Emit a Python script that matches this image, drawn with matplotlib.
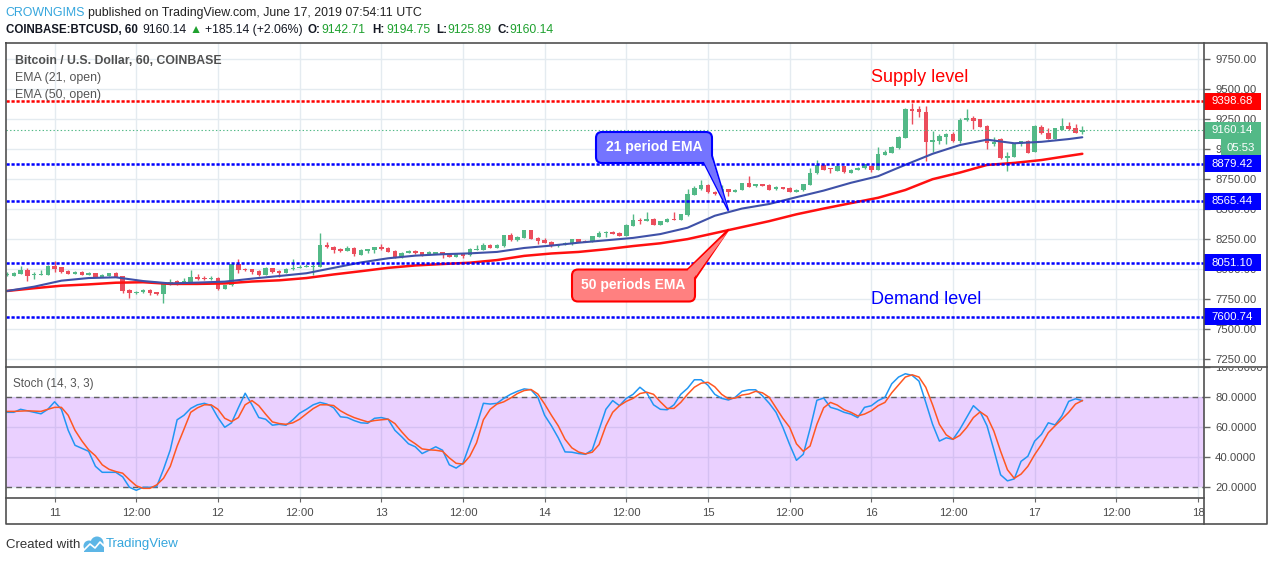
import numpy as np
import pandas as pd
import matplotlib
matplotlib.use("Agg")
import matplotlib.pyplot as plt
import matplotlib.transforms as mtransforms
from matplotlib.patches import Rectangle, FancyBboxPatch, Polygon, Circle

plt.rcParams['font.family'] = ['Liberation Sans', 'DejaVu Sans']
plt.rcParams['lines.scale_dashes'] = False

# ---------------- data (BTCUSD 60 min, COINBASE) ----------------
start_time = "2019-06-10 17:00"
ref_time = "2019-06-11 00:00"

opens = [7950, 7945, 7958, 7992, 7948, 7953, 7953, 8025, 8014, 7983,
         7961, 7975, 7953, 7967, 7936, 7945, 7967, 7942, 7825, 7797,
         7806, 7825, 7806, 7789, 7870, 7900, 7889, 7892, 7936, 7925,
         7914, 7928, 7834, 7864, 8042, 7998, 7998, 7983, 7950, 8009,
         7984, 7970, 7998, 8012, 8020, 8020, 8020, 8204, 8187, 8167,
         8151, 8178, 8120, 8151, 8159, 8184, 8178, 8151, 8098, 8134,
         8151, 8142, 8120, 8128, 8142, 8120, 8104, 8134, 8117, 8159,
         8159, 8201, 8178, 8192, 8284, 8242, 8262, 8326, 8262, 8242,
         8229, 8192, 8201, 8206, 8251, 8237, 8229, 8270, 8298, 8312,
         8304, 8279, 8362, 8412, 8404, 8418, 8368, 8396, 8418, 8412,
         8451, 8620, 8668, 8705, 8646, 8638, 8668, 8646, 8660, 8718,
         8690, 8710, 8702, 8666, 8685, 8677, 8646, 8657, 8704, 8799,
         8869, 8841, 8821, 8860, 8805, 8830, 8841, 8863, 8830, 8955,
         8972, 9010, 9094, 9333, 9336, 9310, 9063, 9072, 9105, 9127,
         9072, 9244, 9264, 9252, 9194, 9046, 9083, 8924, 8938, 9041,
         9069, 8980, 9183, 9136, 9089, 9163, 9191, 9177, 9142.71]
highs = [7975, 7978, 8025, 8010, 7975, 7992, 8030, 8064, 8020, 7990,
         7980, 7980, 7975, 7970, 7958, 7970, 7972, 7945, 7830, 7815,
         7830, 7830, 7810, 7880, 7920, 7905, 7922, 7992, 7956, 7942,
         7945, 7935, 7870, 8045, 8080, 8010, 8000, 7988, 8015, 8012,
         7988, 8005, 8085, 8030, 8040, 8060, 8300, 8225, 8190, 8172,
         8190, 8182, 8167, 8170, 8188, 8205, 8182, 8155, 8140, 8156,
         8155, 8146, 8150, 8146, 8146, 8124, 8138, 8138, 8175, 8200,
         8220, 8206, 8205, 8288, 8300, 8274, 8330, 8330, 8266, 8260,
         8233, 8213, 8230, 8255, 8255, 8241, 8280, 8320, 8316, 8318,
         8308, 8372, 8460, 8430, 8480, 8422, 8405, 8430, 8480, 8463,
         8670, 8690, 8740, 8710, 8650, 8700, 8672, 8667, 8722, 8775,
         8714, 8714, 8706, 8692, 8689, 8681, 8667, 8714, 8840, 8910,
         8873, 8845, 8880, 8864, 8831, 8850, 8878, 8867, 9020, 8990,
         9026, 9110, 9345, 9382, 9360, 9360, 9152, 9130, 9135, 9140,
         9260, 9335, 9280, 9256, 9200, 9100, 9090, 8980, 9045, 9073,
         9080, 9200, 9200, 9180, 9180, 9260, 9230, 9210, 9194.75]
lows = [7940, 7938, 7955, 7903, 7914, 7950, 7950, 7972, 7970, 7955,
        7955, 7950, 7948, 7930, 7930, 7940, 7930, 7800, 7756, 7790,
        7800, 7785, 7780, 7714, 7865, 7865, 7880, 7888, 7910, 7910,
        7910, 7825, 7830, 7860, 7970, 7980, 7960, 7945, 7948, 7970,
        7935, 7965, 7995, 8008, 8015, 7950, 8015, 8175, 8130, 8140,
        8148, 8110, 8115, 8130, 8130, 8160, 8140, 8095, 8090, 8130,
        8125, 8105, 8115, 8124, 8090, 8100, 8100, 8090, 8112, 8155,
        8155, 8172, 8174, 8188, 8238, 8238, 8258, 8247, 8210, 8216,
        8188, 8188, 8197, 8202, 8225, 8222, 8225, 8266, 8270, 8289,
        8275, 8275, 8358, 8380, 8400, 8364, 8364, 8392, 8408, 8408,
        8447, 8615, 8664, 8636, 8620, 8620, 8610, 8642, 8656, 8684,
        8686, 8692, 8659, 8662, 8667, 8642, 8642, 8653, 8700, 8795,
        8823, 8800, 8817, 8803, 8801, 8826, 8837, 8810, 8826, 8951,
        8968, 9006, 9090, 9212, 9270, 8900, 8980, 9040, 9040, 9060,
        9050, 9238, 9170, 9185, 9000, 9030, 8915, 8820, 8934, 9030,
        8965, 8975, 9129, 9085, 9085, 9159, 9162, 9134, 9125.89]
closes = [7962, 7970, 7992, 7945, 7961, 7961, 8025, 8003, 7975, 7961,
          7975, 7953, 7970, 7936, 7953, 7967, 7936, 7820, 7797, 7811,
          7825, 7797, 7789, 7875, 7892, 7872, 7903, 7936, 7914, 7914,
          7925, 7834, 7867, 8042, 7992, 7996, 7973, 7950, 8006, 7975,
          7970, 7998, 8012, 8020, 8025, 8024, 8201, 8181, 8159, 8151,
          8178, 8128, 8162, 8167, 8184, 8167, 8145, 8098, 8134, 8151,
          8131, 8109, 8145, 8142, 8115, 8104, 8134, 8112, 8165, 8167,
          8201, 8178, 8201, 8284, 8242, 8270, 8326, 8251, 8234, 8220,
          8192, 8209, 8218, 8251, 8229, 8229, 8276, 8304, 8312, 8293,
          8279, 8368, 8409, 8406, 8418, 8368, 8401, 8420, 8412, 8459,
          8624, 8679, 8705, 8640, 8630, 8668, 8646, 8663, 8718, 8688,
          8710, 8696, 8663, 8688, 8671, 8646, 8663, 8710, 8799, 8869,
          8827, 8833, 8860, 8807, 8827, 8846, 8874, 8830, 8960, 8975,
          9022, 9105, 9333, 9319, 9308, 9063, 9080, 9110, 9127, 9072,
          9244, 9264, 9239, 9189, 9050, 9063, 8924, 8946, 9041, 9069,
          8972, 9194, 9133, 9089, 9177, 9191, 9166, 9138, 9160.14]

# EMA readings (hours after 2019-06-11 00:00)
ema_hours = [-7, -3, 1, 5, 9, 13, 17, 21, 25, 29, 33, 37, 41, 45, 49, 53, 57, 61,
             65, 69, 73, 77, 81, 85, 89, 93, 97, 101, 105, 109, 113, 117, 121,
             125, 129, 133, 137, 141, 145, 149, 151]
ema21 = [7817, 7853, 7903, 7925, 7931, 7900, 7880, 7887, 7895, 7920, 7942, 7965,
         8010, 8055, 8090, 8112, 8124, 8131, 8143, 8176, 8196, 8220, 8240, 8260,
         8292, 8345, 8445, 8505, 8543, 8600, 8655, 8720, 8775, 8870, 8962, 9035,
         9080, 9050, 9062, 9085, 9100]
ema50 = [7817, 7840, 7861, 7872, 7886, 7890, 7876, 7876, 7880, 7896, 7906, 7925,
         7955, 7982, 8010, 8030, 8042, 8053, 8075, 8110, 8130, 8143, 8165, 8192,
         8215, 8250, 8300, 8350, 8400, 8457, 8505, 8550, 8595, 8660, 8750, 8805,
         8869, 8886, 8910, 8945, 8962]

stoch_k = [70, 70, 72, 71, 70, 69, 72, 77, 72, 58,
           48, 46, 44, 34, 30, 30, 30, 27, 20, 18,
           20, 20, 20.5, 32, 45, 65, 68, 72.6, 75, 76,
           74.5, 66.5, 60, 63, 73, 82.7, 75, 66.5, 65.4, 61.4,
           62, 61.4, 65, 69.4, 72, 75, 76.6, 75.5, 73, 67,
           66.5, 64.5, 63, 62.7, 66, 66.5, 65.4, 58, 53.7, 49,
           47, 42.5, 44.7, 47, 44.7, 35, 32.8, 36, 48.5, 61,
           76, 75.5, 76, 79.3, 82, 84, 85.6, 85, 80, 68,
           61, 53, 43.6, 43.4, 42.5, 42, 45, 58.6, 72, 77.8,
           74.4, 79.3, 82, 86.7, 83, 75, 72, 71.7, 75, 82,
           86, 91.7, 91.7, 88, 82, 79.3, 78.2, 80, 84, 85,
           85, 81, 76, 70, 60, 48.5, 38, 42, 59, 78,
           79.5, 73.3, 72, 70, 68.8, 66.5, 73.3, 74.4, 77.8, 80,
           89, 93.5, 95.7, 94.6, 90.8, 76.6, 62, 50.8, 53, 52,
           58.6, 66.5, 74.4, 70.3, 61, 45, 28.3, 24.3, 25.6, 37.3,
           40.7, 50.8, 55.3, 63, 61.6, 67.6, 77.3, 79, 77.8]
stoch_d = [70.6, 70.6, 70.8, 71, 70.8, 70.6, 72, 73.3, 73.3, 68,
           58, 51, 45, 41, 35, 32, 30.5, 29.4, 25, 21,
           19.3, 19.3, 21.6, 26, 34, 47.4, 58.6, 70, 73, 75,
           75, 72, 66, 63.8, 66.5, 75, 77.8, 74.4, 68.8, 63.6,
           62.5, 62, 63, 65.4, 69, 72.5, 75, 75, 74.5, 71,
           68.5, 66.5, 65, 63.6, 64.5, 65, 65.4, 62.5, 57, 52,
           49, 45.6, 45, 44.7, 44, 39.6, 36, 35.5, 40.7, 49.7,
           65, 72, 75.5, 77, 79.5, 82.5, 84.5, 85.2, 82.2, 75.5,
           68, 61, 52, 46.3, 43.5, 42.3, 43.4, 48.5, 61, 70,
           74.4, 77.3, 79.3, 82.5, 83.4, 82, 77, 72.6, 72.6, 76.6,
           82, 86.7, 89.4, 90, 87, 82, 79, 79.5, 81.5, 82.2,
           84, 83, 80, 73, 66, 60, 49, 44, 47.5, 62,
           73, 76.6, 74.8, 71.7, 70, 67.6, 68.8, 71, 74.4, 76.6,
           83, 88.3, 93.5, 95, 93.5, 86.7, 75, 62, 55, 52,
           54.6, 59.8, 66.5, 70.3, 67.2, 57.5, 44, 31.7, 26, 28.8,
           34, 41.8, 48.5, 56.4, 61, 65.4, 70, 75.5, 77.8]

level_supply = 9398.68
levels_blue = [8879.42, 8565.44, 8051.10, 7600.74]
last_price = 9160.14
countdown = "05:53"

price_ticks = [7250, 7500, 7750, 8000, 8250, 8500, 8750, 9000, 9250, 9500, 9750]
stoch_ticks = [20, 40, 60, 80, 100]
time_labels = ["11", "12:00", "12", "12:00", "13", "12:00", "14", "12:00",
               "15", "12:00", "16", "12:00", "17", "12:00", "18"]

# ---------------- layout ----------------
W, H = 1274, 562
fig = plt.figure(figsize=(W / 100, H / 100), dpi=100)
fig.patch.set_facecolor('white')


def frac(x0, y0, x1, y1):
    return [x0 / W, 1 - y1 / H, (x1 - x0) / W, (y1 - y0) / H]


ax = fig.add_axes(frac(6, 43, 1204, 366))
axs = fig.add_axes(frac(6, 367, 1204, 498), sharex=ax)
axt = fig.add_axes(frac(6, 498, 1204, 524), sharex=ax)

ref = pd.Timestamp(ref_time)
times = pd.date_range(start_time, periods=len(closes), freq="h")
hrs = np.asarray((times - ref) / pd.Timedelta(hours=1), dtype=float)
tick_times = pd.date_range(ref_time, periods=len(time_labels), freq="12h")
tick_hrs = np.asarray((tick_times - ref) / pd.Timedelta(hours=1), dtype=float)

GRID = '#E4EBF0'
TXT = '#4a4a4a'
UP, DN = '#53B987', '#EB4D5C'

for a in (ax, axs, axt):
    for s in a.spines.values():
        s.set_visible(False)
    a.set_axisbelow(True)

ax.set_xlim(-7.14, 168.88)
ax.set_ylim(7190.8, 9886.9)
axs.set_ylim(12.87, 100.2)
axt.set_ylim(0, 1)

# main price axis
ax.set_xticks(tick_hrs)
ax.tick_params(axis='x', length=0, labelbottom=False)
ax.yaxis.tick_right()
ax.set_yticks(price_ticks)
ax.set_yticklabels([f"{v:.2f}" for v in price_ticks])
ax.tick_params(axis='y', direction='out', length=4, width=1, color='#666',
               pad=4, labelsize=8.2, labelcolor=TXT)
ax.grid(True, color=GRID, lw=1)

# stoch axis
axs.tick_params(axis='x', length=0, labelbottom=False)
axs.yaxis.tick_right()
axs.set_yticks(stoch_ticks)
axs.set_yticklabels([f"{v:.4f}" for v in stoch_ticks])
axs.tick_params(axis='y', direction='out', length=4, width=1, color='#666',
                pad=4, labelsize=8.2, labelcolor=TXT)
axs.grid(True, color=GRID, lw=1)
# the top label is cut by the panel border, as in the screenshot
clip_bb = mtransforms.TransformedBbox(
    mtransforms.Bbox.from_extents(1204, H - 498, 1268, H - 367.5),
    mtransforms.IdentityTransform())
for tk in axs.yaxis.get_major_ticks():
    tk.label2.set_clip_box(clip_bb)
    tk.label2.set_clip_on(True)

# time axis
axt.set_yticks([])
axt.tick_params(axis='x', direction='in', length=3, color='#666', top=True,
                bottom=False, labelbottom=False)
tb = mtransforms.blended_transform_factory(axt.transData, axt.transAxes)
for t, lab in zip(tick_hrs, time_labels):
    axt.text(t, 0.42, lab, transform=tb, ha='center', va='center',
             fontsize=8.2, color=TXT)

# ---------------- candles ----------------
o = np.array(opens, float); c = np.array(closes, float)
hi = np.array(highs, float); lo = np.array(lows, float)
cols = np.where(c >= o, UP, DN)
body = c - o
body = np.where(np.abs(body) < 8, np.where(body >= 0, 8, -8), body)
ax.vlines(hrs, lo, hi, colors=cols, lw=1, zorder=2)
ax.bar(hrs, body, bottom=o, width=0.66, color=cols, linewidth=0, zorder=2.1)

# EMAs
ax.plot(ema_hours, ema50, color='#FF1010', lw=1.8, zorder=3, solid_capstyle='round')
ax.plot(ema_hours, ema21, color='#3F51A8', lw=1.5, zorder=3.1, solid_capstyle='round')

# level lines
ax.axhline(last_price, color=UP, lw=0.8, dashes=(1, 1.6), zorder=2.5)
ax.axhline(level_supply, color='#FF0000', lw=1.8, dashes=(2.3, 1.3), zorder=3.5)
for lv in levels_blue:
    ax.axhline(lv, color='#0000FF', lw=1.8, dashes=(2.3, 1.3), zorder=3.5)

# price tags on the right axis
bt = mtransforms.blended_transform_factory(ax.transAxes, ax.transData)
ppx = (9886.9 - 7190.8) / 323.0   # price per pixel
axw = 1198.0


def tag(level, text, color, x0=1204, x1=1261, center=None):
    yc = level if center is None else center
    r = Rectangle(((x0 - 6) / axw, yc - 8.5 * ppx), (x1 - x0) / axw, 17 * ppx,
                  transform=bt, facecolor=color, edgecolor='none',
                  clip_on=False, zorder=6)
    ax.add_patch(r)
    ax.text((0.5 * (x0 + x1) - 6) / axw, yc, text, transform=bt, ha='center',
            va='center', color='white', fontsize=8.2, zorder=7, clip_on=False)


tag(level_supply, f"{level_supply:.2f}", '#FF0000')
tag(last_price, f"{last_price:.2f}", UP)
tag(last_price, countdown, UP, x0=1221, x1=1261, center=last_price - 17.5 * ppx)
for lv in levels_blue:
    tag(lv, f"{lv:.2f}", '#0000FF')

# ---------------- stochastic ----------------
axs.axhspan(20, 80, facecolor='#9915FF', alpha=0.2, lw=0, zorder=1)
axs.axhline(80, color='#606060', lw=1, dashes=(4, 3), zorder=2)
axs.axhline(20, color='#606060', lw=1, dashes=(4, 3), zorder=2)
axs.plot(hrs, stoch_k, color='#2196F3', lw=1.1, zorder=3)
axs.plot(hrs, stoch_d, color='#FF5722', lw=1.1, zorder=3.1)

# ---------------- overlay (chrome, texts, callouts) ----------------
ov = fig.add_axes([0, 0, 1, 1], zorder=20)
ov.set_xlim(0, W)
ov.set_ylim(H, 0)
ov.set_axis_off()

FR = '#505050'
ov.plot([6, 1267, 1267, 6, 6], [43, 43, 524, 524, 43], color=FR, lw=1.2)
ov.plot([6, 1267], [366.5, 366.5], color=FR, lw=1.2)
ov.plot([6, 1204], [498, 498], color=FR, lw=1.2)
ov.plot([1204, 1204], [43, 524], color=FR, lw=1.2)

# header
ov.text(5.5, 13, "CROWNGIMS", color='#35A6DD', fontsize=8.9, va='center')
ov.text(87.5, 13, "published on TradingView.com, June 17, 2019 07:54:11 UTC",
        color='#222222', fontsize=8.9, va='center')
hdr = [(5.5, "COINBASE:BTCUSD, 60", '#131722', 'bold', 8.3),
       (142, "9160.14", '#131722', 'normal', 8.8),
       (190, "\u25B2", '#1FA12F', 'normal', 8.8),
       (205, "+185.14 (+2.06%)", '#131722', 'normal', 8.8),
       (308, "O:", '#131722', 'bold', 8.4),
       (321.5, "9142.71", '#1FA12F', 'normal', 8.8),
       (372.5, "H:", '#131722', 'bold', 8.4),
       (386, "9194.75", '#1FA12F', 'normal', 8.8),
       (436, "L:", '#131722', 'bold', 8.4),
       (447, "9125.89", '#1FA12F', 'normal', 8.8),
       (497.5, "C:", '#131722', 'bold', 8.4),
       (509.5, "9160.14", '#1FA12F', 'normal', 8.8)]
for x, s, col, wt, fs in hdr:
    ov.text(x, 30, s, color=col, fontsize=fs, fontweight=wt, va='center')

# legend texts
ov.text(15, 61, "Bitcoin / U.S. Dollar, 60, COINBASE", color='#505050',
        fontsize=8.8, fontweight='bold', va='center')
ov.text(15, 78, "EMA (21, open)", color='#555555', fontsize=8.9, va='center')
ov.text(15, 95, "EMA (50, open)", color='#555555', fontsize=8.9, va='center')
ov.text(13, 384, "Stoch (14, 3, 3)", color='#555555', fontsize=8.5, va='center')

ov.text(871, 77, "Supply level", color='#FF0000', fontsize=13, va='center')
ov.text(871, 299, "Demand level", color='#0000FF', fontsize=13, va='center')


def to_px(xd, yd):
    d = ax.transData.transform((xd, yd))
    return d[0], H - d[1]


# callout: 21 period EMA
tipx, tipy = to_px(99.0, 8487)
ov.add_patch(Polygon([(703, 161), (711, 152), (tipx, tipy)], closed=True,
                     facecolor='#7474FF', edgecolor='#0000FF', lw=1.3, zorder=5))
ov.add_patch(FancyBboxPatch((596, 132), 116, 31,
                            boxstyle='round,pad=0,rounding_size=6',
                            facecolor='#7474FF', edgecolor='#0000FF', lw=1.5, zorder=6))
ov.add_patch(Polygon([(704, 162.2), (710.3, 153.5), (tipx - 1, tipy - 3)], closed=True,
                     facecolor='#7474FF', edgecolor='none', zorder=6.5))
ov.text(654, 147.5, "21 period EMA", color='white', fontsize=10, fontweight='bold',
        ha='center', va='center', zorder=7)

# callout: 50 periods EMA
tipx, tipy = to_px(99.05, 8332)
ov.add_patch(Polygon([(686, 271), (695, 279), (tipx, tipy)], closed=True,
                     facecolor='#FF8080', edgecolor='#FF0000', lw=1.3, zorder=5))
ov.add_patch(FancyBboxPatch((572, 269.5), 123, 32,
                            boxstyle='round,pad=0,rounding_size=6',
                            facecolor='#FF8080', edgecolor='#FF0000', lw=1.5, zorder=6))
ov.add_patch(Polygon([(687.5, 270.3), (694.2, 277.5), (tipx - 1, tipy + 3)], closed=True,
                     facecolor='#FF8080', edgecolor='none', zorder=6.5))
ov.text(633.5, 285.5, "50 periods EMA", color='white', fontsize=10, fontweight='bold',
        ha='center', va='center', zorder=7)

# footer
ov.text(6, 544.5, "Created with", color='#333333', fontsize=9.5, va='center')
LOGO = '#5DB6E6'
ov.add_patch(Circle((89, 546), 5.5, facecolor=LOGO, edgecolor='none'))
ov.add_patch(Circle((97, 543), 6.5, facecolor=LOGO, edgecolor='none'))
ov.add_patch(Rectangle((84, 546), 20, 6, facecolor=LOGO, edgecolor='none'))
ov.plot([84, 90, 95, 100, 105], [550, 544, 548, 542, 547], color='white', lw=1.2)
ov.text(106, 544.5, "TradingView", color='#35A6DD', fontsize=9.5, va='center')

fig.savefig("out.png", dpi=100, facecolor='white')
